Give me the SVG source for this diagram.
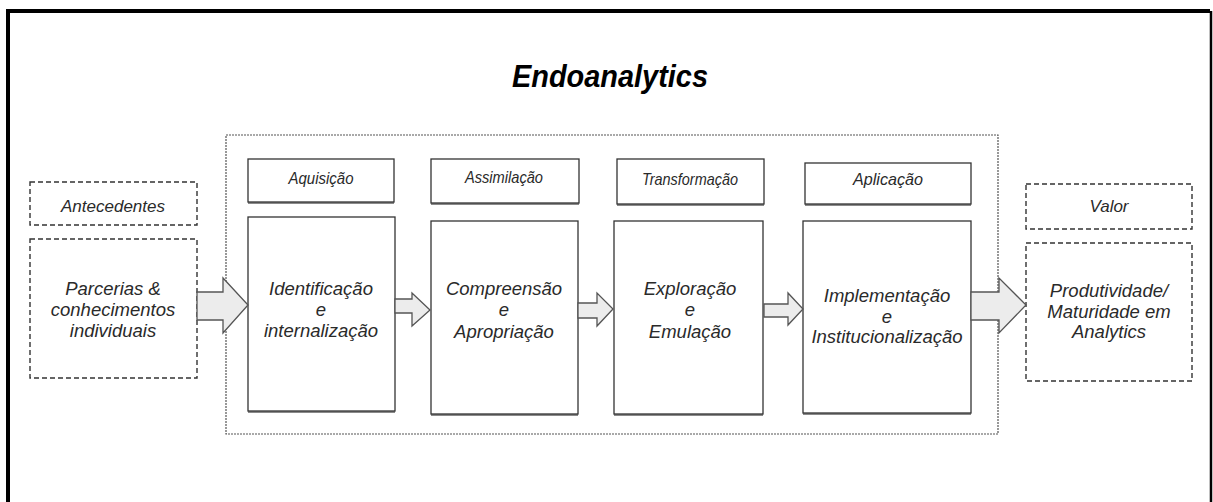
<svg xmlns="http://www.w3.org/2000/svg" width="1213" height="502" viewBox="0 0 1213 502">
  <style>
    .frame { fill: none; stroke: #000; stroke-width: 4; }
    .frame-right { stroke: #000; stroke-width: 2.5; }
    .container { fill: none; stroke: #555; stroke-width: 1.2; stroke-dasharray: 2 1; }
    .dashed { fill: #fff; stroke: #333; stroke-width: 1.4; stroke-dasharray: 5 3; }
    .solid { fill: #fff; stroke: #333; stroke-width: 1.3; }
    .shadow { fill: #8a8a8a; }
    .arrow { fill: #ececec; stroke: #555; stroke-width: 1.3; stroke-linejoin: miter; }
    .title { font-family: "Liberation Sans", Arial, sans-serif; font-size: 32px; font-weight: bold; font-style: italic; fill: #000; text-anchor: middle; }
    .label { font-family: "Liberation Sans", Arial, sans-serif; font-size: 17px; font-style: italic; fill: #2a2a2a; text-anchor: middle; }
    .body { font-family: "Liberation Sans", Arial, sans-serif; font-size: 18.5px; font-style: italic; fill: #2a2a2a; text-anchor: middle; }
  </style>

  <rect width="1213" height="502" fill="#fff"/>

  <!-- outer frame, open at the bottom edge -->
  <path class="frame" d="M8,531 V11 H1210"/>
  <line class="frame-right" x1="1211" y1="11" x2="1211" y2="502"/>

  <text class="title" x="610" y="87" textLength="196" lengthAdjust="spacingAndGlyphs">Endoanalytics</text>

  <!-- dotted container around the four stages -->
  <rect class="container" x="226" y="135" width="772" height="299"/>

  <g id="antecedentes">
    <rect class="dashed" x="30" y="182" width="167" height="43"/>
    <text class="label" x="113" y="212">Antecedentes</text>
  </g>

  <g id="parcerias">
    <rect class="dashed" x="30" y="239" width="167" height="139"/>
    <text class="body" x="113" y="295">Parcerias &amp;</text>
    <text class="body" x="113" y="316">conhecimentos</text>
    <text class="body" x="113" y="337">individuais</text>
  </g>

  <g id="aquisicao">
    <rect class="shadow" x="248" y="161" width="146" height="43"/>
    <rect class="solid" x="248" y="159" width="146" height="43"/>
    <text class="label" x="321" y="184" textLength="65" lengthAdjust="spacingAndGlyphs">Aquisição</text>
  </g>

  <g id="identificacao">
    <rect class="shadow" x="248" y="219" width="147" height="194"/>
    <rect class="solid" x="248" y="217" width="147" height="194"/>
    <text class="body" x="321" y="295">Identificação</text>
    <text class="body" x="321" y="316">e</text>
    <text class="body" x="321" y="337">internalização</text>
  </g>

  <g id="assimilacao">
    <rect class="shadow" x="431" y="161" width="148" height="44"/>
    <rect class="solid" x="431" y="159" width="148" height="44"/>
    <text class="label" x="504" y="183" textLength="78" lengthAdjust="spacingAndGlyphs">Assimilação</text>
  </g>

  <g id="compreensao">
    <rect class="shadow" x="431" y="223" width="147" height="193"/>
    <rect class="solid" x="431" y="221" width="147" height="193"/>
    <text class="body" x="504" y="295">Compreensão</text>
    <text class="body" x="504" y="316">e</text>
    <text class="body" x="504" y="338">Apropriação</text>
  </g>

  <g id="transformacao">
    <rect class="shadow" x="617" y="161" width="147" height="45"/>
    <rect class="solid" x="617" y="159" width="147" height="45"/>
    <text class="label" x="690" y="185" textLength="96" lengthAdjust="spacingAndGlyphs">Transformação</text>
  </g>

  <g id="exploracao">
    <rect class="shadow" x="614" y="223" width="149" height="193"/>
    <rect class="solid" x="614" y="221" width="149" height="193"/>
    <text class="body" x="690" y="295">Exploração</text>
    <text class="body" x="690" y="316">e</text>
    <text class="body" x="690" y="338">Emulação</text>
  </g>

  <g id="aplicacao">
    <rect class="shadow" x="805" y="165" width="166" height="41"/>
    <rect class="solid" x="805" y="163" width="166" height="41"/>
    <text class="label" x="888" y="185" textLength="70" lengthAdjust="spacingAndGlyphs">Aplicação</text>
  </g>

  <g id="implementacao">
    <rect class="shadow" x="803" y="223" width="168" height="192"/>
    <rect class="solid" x="803" y="221" width="168" height="192"/>
    <text class="body" x="887" y="302">Implementação</text>
    <text class="body" x="887" y="323">e</text>
    <text class="body" x="887" y="343">Institucionalização</text>
  </g>

  <g id="valor">
    <rect class="dashed" x="1026" y="184" width="166" height="45"/>
    <text class="label" x="1109" y="212">Valor</text>
  </g>

  <g id="produtividade">
    <rect class="dashed" x="1026" y="243" width="166" height="138"/>
    <text class="body" x="1109" y="297">Produtividade/</text>
    <text class="body" x="1109" y="318">Maturidade em</text>
    <text class="body" x="1109" y="338">Analytics</text>
  </g>

  <!-- block arrows between stages -->
  <g id="connectors">
    <polygon class="arrow" points="197,292 223,292 223,278 248,305 223,333 223,320 197,320"/>
    <polygon class="arrow" points="395,299 412,299 412,293 430,310 412,326 412,313 395,313"/>
    <polygon class="arrow" points="578,303 597,303 597,293 613,309 597,326 597,318 578,318"/>
    <polygon class="arrow" points="764,304 788,304 788,293 803,309 788,325 788,317 764,317"/>
    <polygon class="arrow" points="971,292 999,292 999,278 1026,305 999,333 999,320 971,320"/>
  </g>
</svg>
